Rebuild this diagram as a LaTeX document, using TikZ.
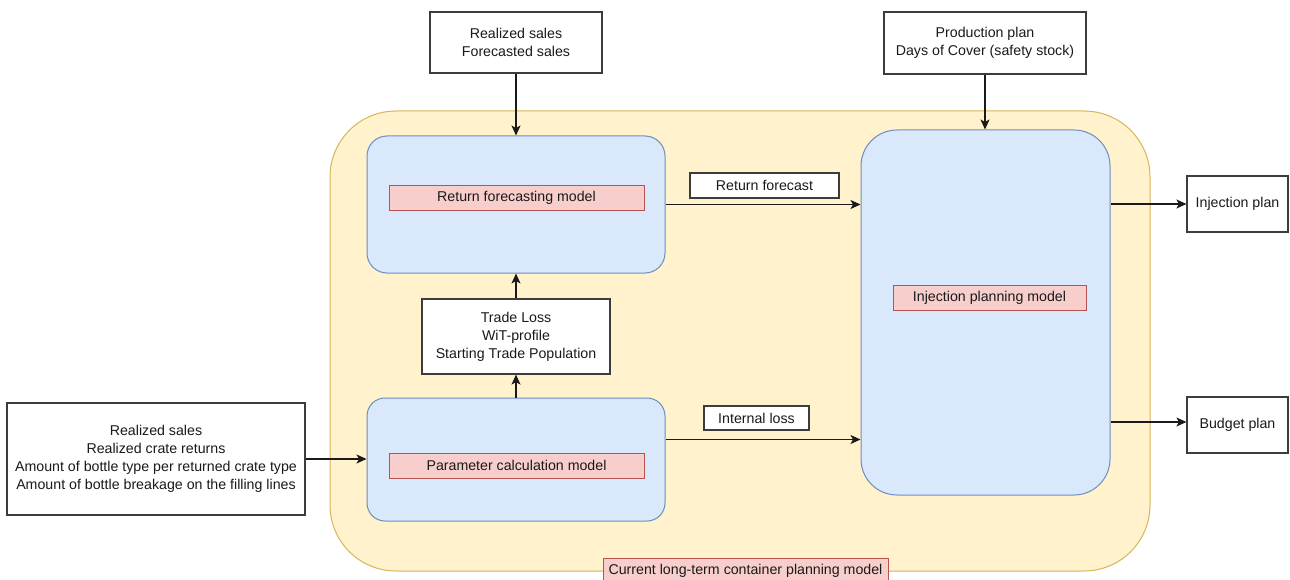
\documentclass[tikz,border=0pt]{standalone}
\usepackage{fontspec}
\setmainfont{Liberation Sans}
\usetikzlibrary{arrows.meta}
\definecolor{yfill}{HTML}{FFF2CC}
\definecolor{ydraw}{HTML}{D6B656}
\definecolor{bfill}{HTML}{DAE8FC}
\definecolor{bdraw}{HTML}{6C8EBF}
\definecolor{rfill}{HTML}{F8CECC}
\definecolor{rdraw}{HTML}{B85450}
\definecolor{ink}{HTML}{1A1A1A}
\tikzset{
  base/.style={inner sep=0pt, align=center, font=\fontsize{14.2}{18}\selectfont, text=ink},
  iobox/.style={base, draw=ink!85, fill=white, line width=1.2pt},
  modbox/.style={base, draw=bdraw, fill=bfill, line width=1pt},
  tagbox/.style={base, draw=rdraw, fill=rfill, line width=1pt},
  flow/.style={draw=ink, line width=1.2pt, -{Stealth[length=10pt,width=9pt,inset=2.5pt]}},
}
\begin{document}
\begin{tikzpicture}[x=1pt,y=-1pt]
\useasboundingbox (0,0) rectangle (1290,580);
\clip (0,0) rectangle (1290,580);

% outer planning model container
\node[base, draw=ydraw, fill=yfill, line width=1pt, rounded corners=66pt,
      minimum width=820pt, minimum height=460pt] (frame) at (740,341) {};

% model blocks
\node[modbox, rounded corners=20pt, minimum width=298pt, minimum height=137pt] (rf) at (516,204.5) {};
\node[modbox, rounded corners=18pt, minimum width=298pt, minimum height=123pt] (pc) at (516,459.5) {};
\node[modbox, rounded corners=36pt, minimum width=249pt, minimum height=365pt] (ipm) at (985.5,312.5) {};

\node[tagbox, minimum width=255pt, minimum height=25pt] (rft) at (516.5,198) {Return forecasting model};
\node[tagbox, minimum width=255pt, minimum height=25pt] (pct) at (516.5,465.5) {Parameter calculation model};
\node[tagbox, minimum width=193pt, minimum height=25pt] (ipt) at (989.5,298) {Injection planning model};

% inputs and outputs
\node[iobox, minimum width=172pt, minimum height=61pt] (in1) at (516,42.5) {Realized sales\\Forecasted sales};
\node[iobox, minimum width=202pt, minimum height=62pt] (in2) at (985,43) {Production plan\\Days of Cover (safety stock)};
\node[iobox, minimum width=298pt, minimum height=112pt] (in3) at (156,459) {Realized sales\\Realized crate returns\\Amount of bottle type per returned crate type\\Amount of bottle breakage on the filling lines};
\node[iobox, minimum width=188pt, minimum height=75pt] (tl) at (516,336.5) {Trade Loss\\WiT-profile\\Starting Trade Population};
\node[iobox, minimum width=101pt, minimum height=56pt] (inj) at (1237.5,204) {Injection plan};
\node[iobox, minimum width=101pt, minimum height=56pt] (bud) at (1237.5,425) {Budget plan};

% flow labels
\node[iobox, minimum width=149pt, minimum height=25pt] (rfl) at (764.5,185.5) {Return forecast};
\node[iobox, minimum width=105pt, minimum height=24pt] (ill) at (756.5,418) {Internal loss};
\node[tagbox, minimum width=285pt, minimum height=25pt] (title) at (745.5,571) {Current long-term container planning model};

% connectors
\draw[flow] (in1.south) -- (in1.south |- rf.north);
\draw[flow] (in2.south) -- (in2.south |- ipm.north);
\draw[flow] (pc.north) -- (tl.south);
\draw[flow] (tl.north) -- (rf.south);
\draw[flow] (in3.east) -- (in3.east -| pc.west);
\draw[flow] (rf.east) -- (rf.east -| ipm.west);
\draw[flow] ([yshift=20pt]pc.east) -- ([yshift=20pt]pc.east -| ipm.west);
\draw[flow] (inj.west -| ipm.east) -- (inj.west);
\draw[flow] ([yshift=3pt]bud.west -| ipm.east) -- ([yshift=3pt]bud.west);
\end{tikzpicture}
\end{document}
